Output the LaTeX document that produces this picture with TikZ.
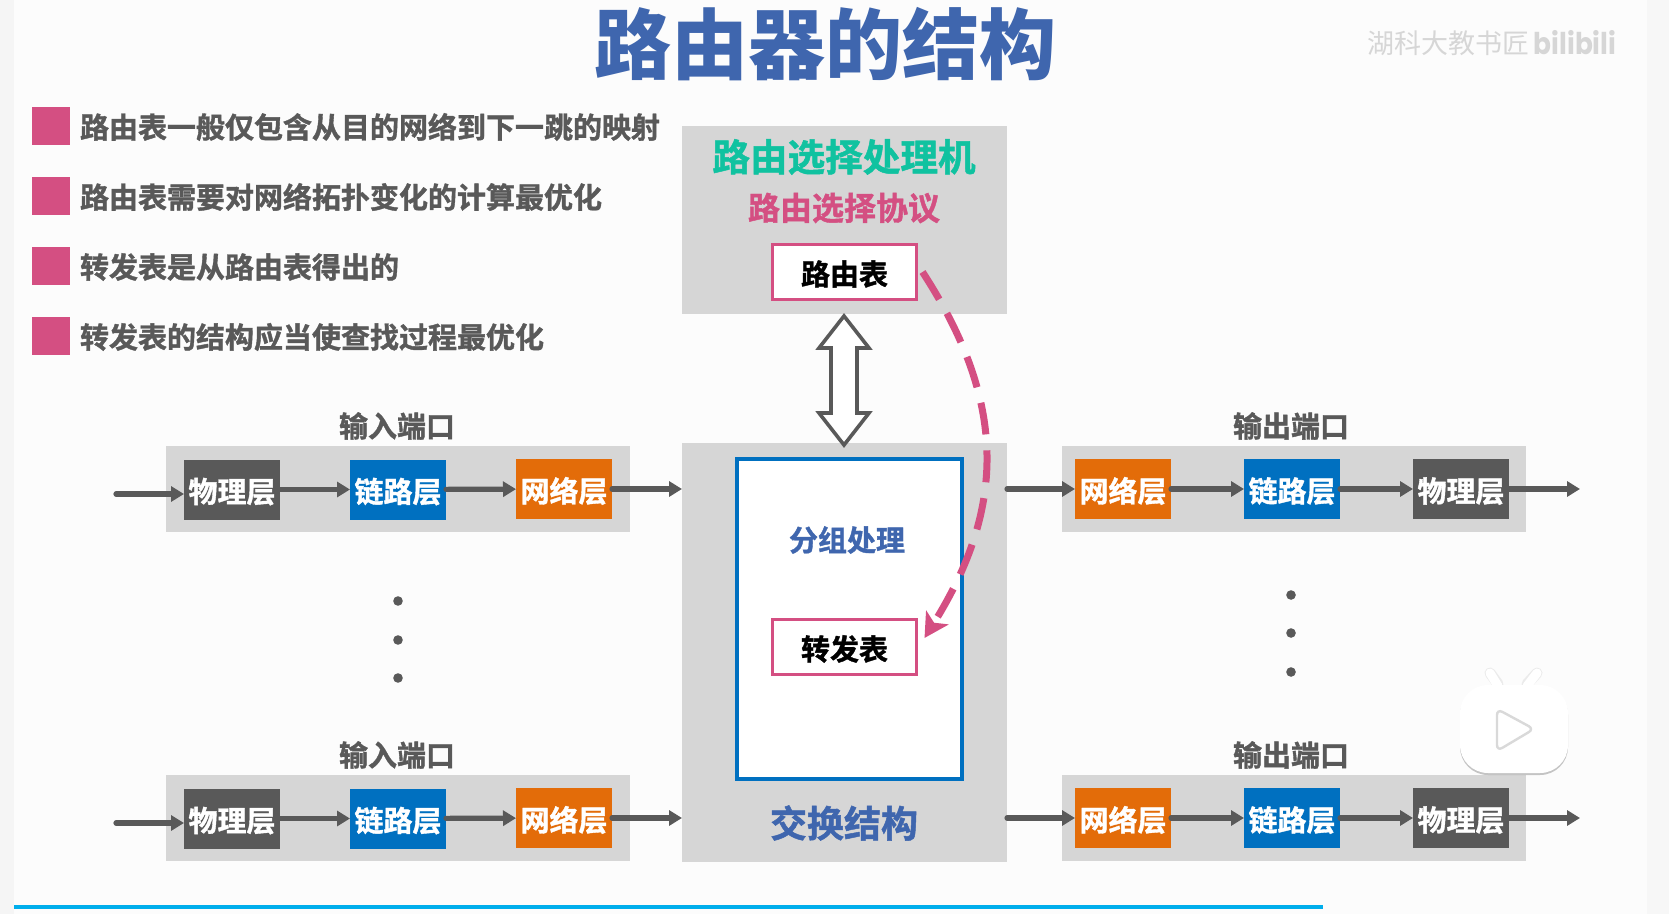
\documentclass[tikz,border=0pt]{standalone}
\usepackage{fontspec}
\setmainfont{Noto Sans CJK SC}[BoldFont={Noto Sans CJK SC Bold},BoldFeatures={FakeBold=1.3}]
\newfontfamily\titlefont{Noto Sans CJK SC Black}
\newfontfamily\logofont{Poppins}
\usetikzlibrary{arrows.meta,shadows}
\definecolor{inkgray}{HTML}{595959}
\definecolor{panelgray}{HTML}{D6D6D6}
\definecolor{rosepink}{HTML}{D44F82}
\definecolor{linkblue}{HTML}{0070C0}
\definecolor{netorange}{HTML}{E36C09}
\definecolor{titleblue}{HTML}{3F66AE}
\definecolor{tealgreen}{HTML}{10C2A0}
\definecolor{barblue}{HTML}{00AEEC}

\begin{document}
\begin{tikzpicture}[x=0.5pt, y=-0.5pt,
		every node/.style={inner sep=0pt, outer sep=0pt, font=\fontsize{14.5}{16}\bfseries},
		panel/.style={fill=panelgray, minimum width=#1},
		layer/.style={fill=#1, text=white, text height=14pt, text depth=1pt, minimum width=48pt, minimum height=30pt},
		tablebox/.style={draw=rosepink, line width=1.5pt, fill=white, text height=14pt, text depth=1pt, minimum width=72pt, minimum height=27.5pt},
		flow/.style={draw=inkgray, line width=2.6pt, line cap=round, -{Triangle[length=6.5pt, width=7.5pt]}},
		bullet/.style={fill=rosepink, minimum width=19pt, minimum height=19pt},
		point/.style={text=inkgray, anchor=west},
		portname/.style={text=inkgray}]
	\useasboundingbox (0,0) rectangle (1669,914);

	% Page
	\fill[white!99!black] (0,0) rectangle (1669,914);
	\fill[white!96!black] (0,0) rectangle (14,914);
	\fill[white!97!black] (1647,0) rectangle (1669,914);
	\fill[barblue] (14,905) rectangle (1323,909);

	% Title and watermark
	\node[text=titleblue, font=\fontsize{38.5}{40}\titlefont] (title) at (825,44) {路由器的结构};
	\node[text=white!84!black, font=\fontsize{13.5}{15}\selectfont] (mark) at (1448,43) {湖科大教书匠};
	\node[text=white!84!black, xscale=0.88, font=\fontsize{15}{17}\logofont\bfseries] (logo) at (1575,43) {bilibili};

	% Points
	\foreach \i/\y/\txt in {1/126/路由表一般仅包含从目的网络到下一跳的映射,
			2/196/路由表需要对网络拓扑变化的计算最优化,
			3/266/转发表是从路由表得出的,
			4/336/转发表的结构应当使查找过程最优化}{
		\node[bullet] (b\i) at (51,\y) {};
		\node[point] (p\i) at (80,\y+1) {\txt};
	}

	% Routing processor
	\node[panel=162.5pt, minimum height=94pt] (proc) at (844.5,220) {};
	\node[text=tealgreen, font=\fontsize{18.8}{20}\bfseries] (proctitle) at (844,157) {路由选择处理机};
	\node[text=rosepink, font=\fontsize{16}{18}\bfseries] (protocol) at (844,208) {路由选择协议};
	\node[tablebox] (rib) at (844.5,272) {路由表};

	% Switching fabric
	\node[panel=162.5pt, minimum height=209.5pt] (fabric) at (844.5,652.5) {};
	\node[draw=linkblue, line width=2pt, fill=white, minimum width=112.5pt, minimum height=160pt] (pkt) at (849,618.5) {};
	\node[text=titleblue] (pkttitle) at (847,540) {分组处理};
	\node[tablebox] (fib) at (844.5,647) {转发表};
	\node[text=titleblue, font=\fontsize{18.5}{20}\bfseries] (fabtitle) at (844,823) {交换结构};

	% Ports
	\foreach \i/\y in {a/488,b/817}{
		\node[panel=232pt, minimum height=43pt] (inband\i) at (398,\y+1) {};
		\node[panel=232pt, minimum height=43pt] (outband\i) at (1294,\y+1) {};
		\node[portname] (inname\i) at (397,\y-62) {输入端口};
		\node[portname] (outname\i) at (1291,\y-62) {输出端口};

		\node[layer=inkgray] (phy\i) at (232,\y+1.5) {物理层};
		\node[layer=linkblue] (lnk\i) at (398,\y+1.5) {链路层};
		\node[layer=netorange] (net\i) at (564,\y+1) {网络层};
		\node[layer=netorange] (onet\i) at (1123,\y+1) {网络层};
		\node[layer=linkblue] (olnk\i) at (1292,\y+1) {链路层};
		\node[layer=inkgray] (ophy\i) at (1461,\y+1) {物理层};

		\coordinate (src\i) at (116,\y+6);
		\coordinate (dst\i) at (1580,\y+1);

		\draw[flow] (src\i) -- (src\i -| phy\i.west);
		\draw[flow] (phy\i) -- (lnk\i);
		\draw[flow] (lnk\i) -- (net\i);
		\draw[flow] (net\i) -- (net\i -| fabric.west);
		\draw[flow] (onet\i -| fabric.east) -- (onet\i);
		\draw[flow] (onet\i) -- (olnk\i);
		\draw[flow] (olnk\i) -- (ophy\i);
		\draw[flow] (ophy\i) -- (dst\i);
	}

	% Dots
	\foreach \y in {601,640,678}
		\fill[inkgray] (398,\y) circle (2.4pt);
	\foreach \y in {595,633,672}
		\fill[inkgray] (1291,\y) circle (2.4pt);

	% Link between processor and fabric
	\draw[draw=inkgray, line width=1.8pt, fill=white, line join=miter]
		(844,316) -- (869,348) -- (857,348) -- (857,413) -- (869,413) -- (844,445)
		-- (819,413) -- (831,413) -- (831,348) -- (819,348) -- cycle;

	% Table update
	\draw[draw=rosepink, line width=3.5pt, dash pattern=on 16pt off 8pt,
		-{Stealth[length=12pt, width=13pt, inset=3pt]}]
		(rib.east) ++(6,0) to[out=-57, in=58, looseness=1.08] ([xshift=4,yshift=4.5pt]fib.east);

	% Player icon
	\draw[white!92!black, line width=5.5pt, line cap=round] (1498,684) -- (1490,673);
	\draw[white!92!black, line width=5.5pt, line cap=round] (1527,684) -- (1537,673);
	\draw[white, line width=4.5pt, line cap=round] (1498,686) -- (1490,673);
	\draw[white, line width=4.5pt, line cap=round] (1527,686) -- (1537,673);
	\node[fill=white, rounded corners=14pt, minimum width=54pt, minimum height=44pt,
		drop shadow={shadow xshift=0pt, shadow yshift=-1pt, opacity=0.45}] (player) at (1514,729) {};
	\draw[white!85!black, fill=white, line width=1.2pt, rounded corners=3pt]
		(1497,709) -- (1534,729) -- (1497,751) -- cycle;
\end{tikzpicture}
\end{document}
